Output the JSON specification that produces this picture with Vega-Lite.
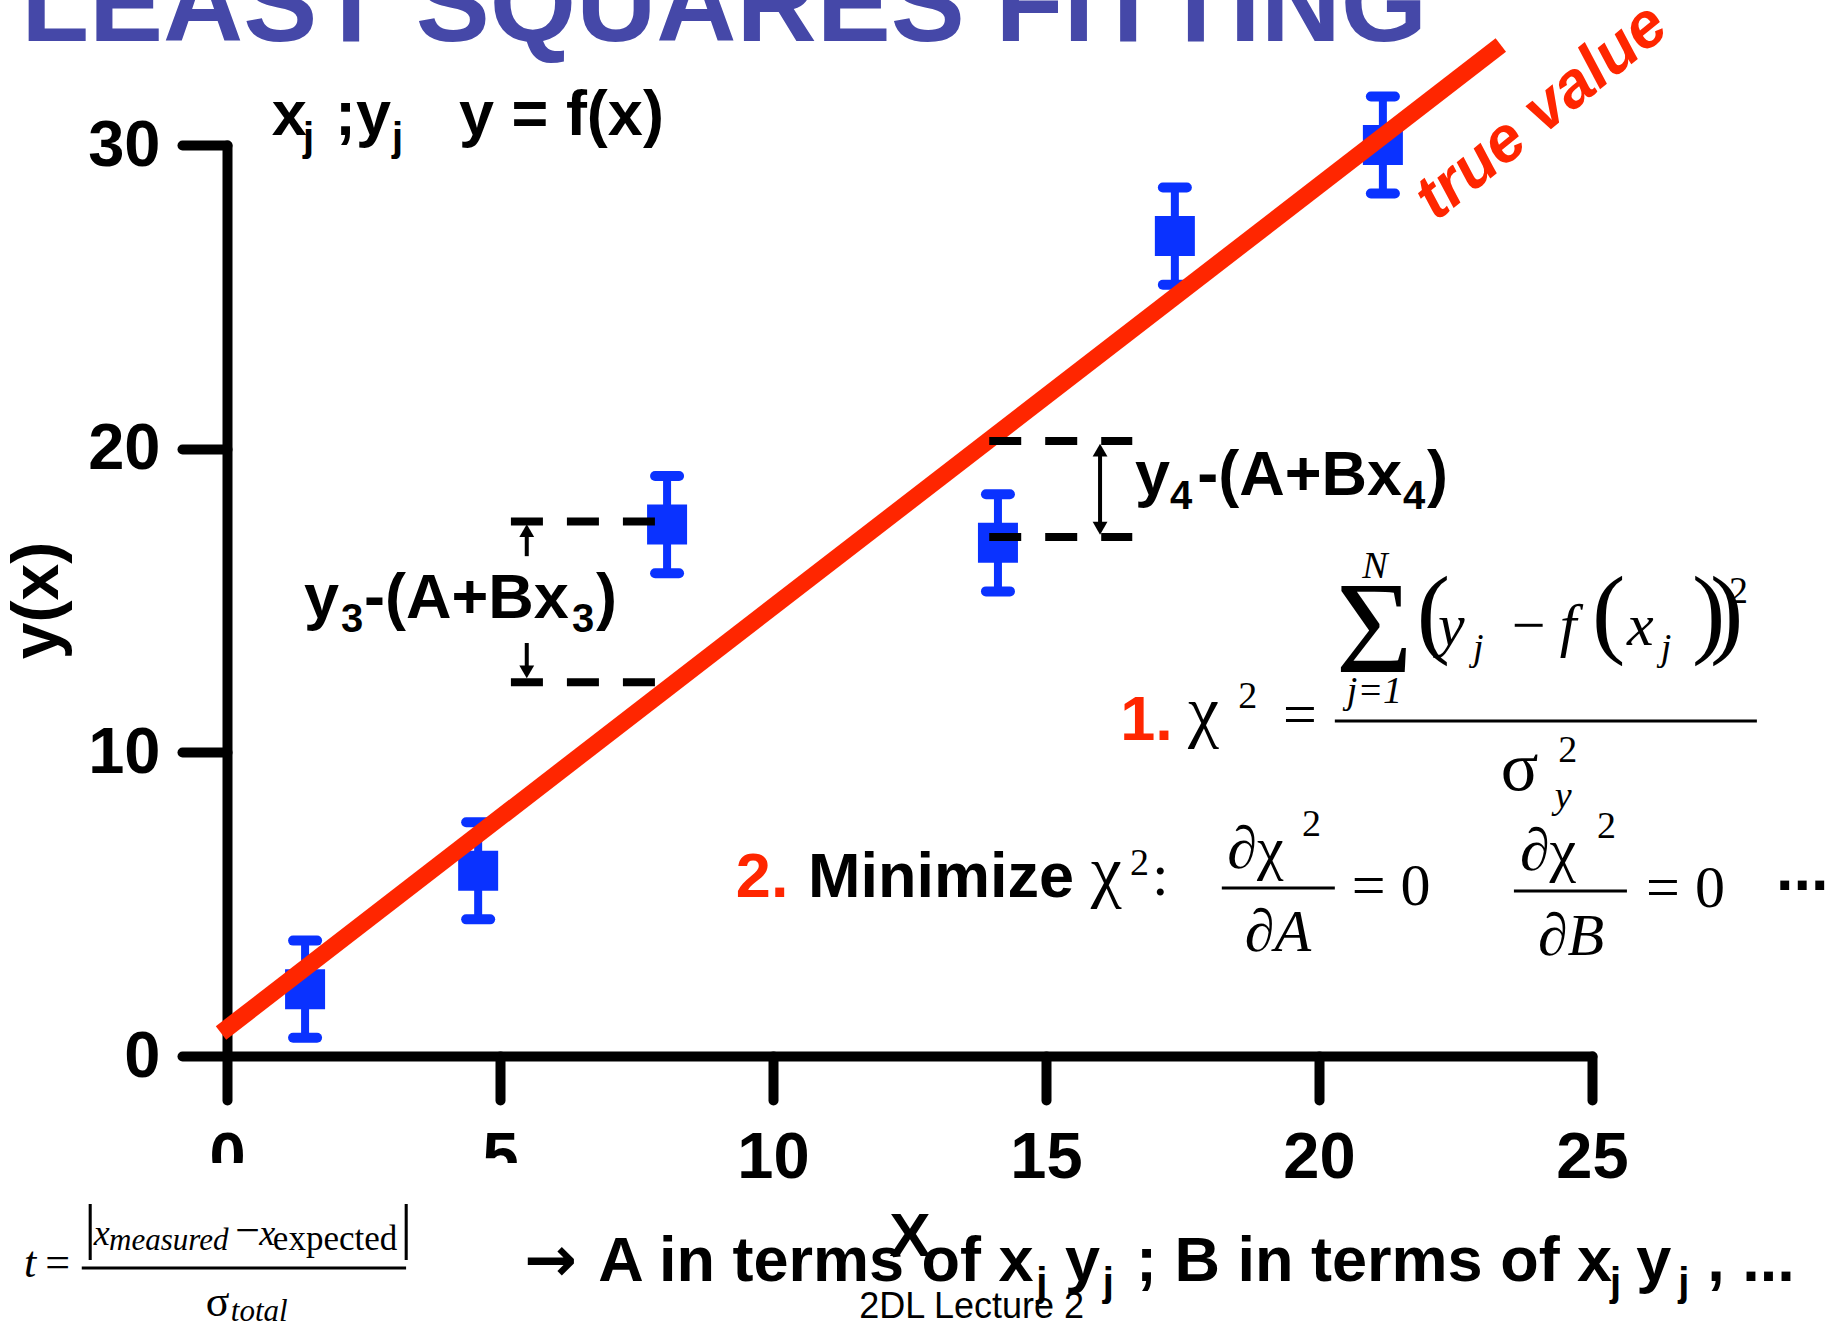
{
  "$schema": "https://vega.github.io/schema/vega-lite/v6.json",
  "width": 1365,
  "height": 911,
  "autosize": {"type": "none"},
  "padding": {"left": 227, "top": 145, "right": 254, "bottom": 271},
  "background": "white",
  "config": {
    "view": {"stroke": null},
    "axis": {
      "grid": false, "zindex": 0,
      "domainColor": "black", "domainWidth": 10, "domainCap": "round",
      "tickColor": "black", "tickWidth": 10, "tickCap": "round",
      "labelFont": "Liberation Sans", "labelFontWeight": "bold", "labelFontSize": 65,
      "labelColor": "black", "titleColor": "black", "labelFlush": false, "labelOverlap": false
    },
    "axisX": {"tickSize": 44, "labelPadding": 26},
    "axisY": {"tickSize": 45, "labelPadding": 22}
  },
  "datasets": {
    "minorX": [{"x": 1}, {"x": 2}, {"x": 3}, {"x": 4}, {"x": 6}, {"x": 7}, {"x": 8}, {"x": 9}, {"x": 11}, {"x": 12}, {"x": 13}, {"x": 14}, {"x": 16}, {"x": 17}, {"x": 18}, {"x": 19}, {"x": 21}, {"x": 22}, {"x": 23}, {"x": 24}],
    "minorY": [{"y": 5}, {"y": 15}, {"y": 25}],
    "points": [
      {"x": 1.43, "y": 2.2, "lo": 0.6, "hi": 3.8},
      {"x": 4.6, "y": 6.1, "lo": 4.5, "hi": 7.7},
      {"x": 8.06, "y": 17.5, "lo": 15.9, "hi": 19.1},
      {"x": 14.12, "y": 16.9, "lo": 15.3, "hi": 18.5},
      {"x": 17.36, "y": 27.0, "lo": 25.4, "hi": 28.6},
      {"x": 21.17, "y": 30.0, "lo": 28.4, "hi": 31.6}
    ],
    "fit": [{"x": -0.11, "y": 0.76}, {"x": 23.33, "y": 33.29}],
    "dashes": [
      {"x": 5.2, "x2": 7.92, "y": 17.6},
      {"x": 5.2, "x2": 7.92, "y": 12.31},
      {"x": 13.96, "x2": 16.58, "y": 20.25},
      {"x": 13.96, "x2": 16.58, "y": 17.09}
    ],
    "shafts": [
      {"x": 5.49, "y": 16.46, "y2": 17.3},
      {"x": 5.49, "y": 13.6, "y2": 12.75},
      {"x": 15.99, "y": 19.85, "y2": 17.5}
    ],
    "headsUp": [{"x": 5.49, "y": 17.3}, {"x": 15.99, "y": 19.95}],
    "headsDown": [{"x": 5.49, "y": 12.65}, {"x": 15.99, "y": 17.38}],
    "fracLines": [
      {"x": 20.29, "x2": 28.02, "y": 11.03},
      {"x": 18.22, "x2": 20.29, "y": 5.53},
      {"x": 23.57, "x2": 25.64, "y": 5.43},
      {"x": -2.66, "x2": 3.28, "y": -6.98}
    ],
    "cover": [{"x": -4.3, "x2": 5.46, "y": -3.52, "y2": -9.2}],
    "heading": [{"x": -3.77, "y": 33.42, "t": "LEAST  SQUARES  FITTING"}],
    "sansBig": [
      {"x": 0.82, "y": 30.33, "t": "x"},
      {"x": 1.98, "y": 30.33, "t": ";y"},
      {"x": 4.25, "y": 30.33, "t": "y = f(x)"},
      {"x": 1.41, "y": 14.42, "t": "y"},
      {"x": 2.51, "y": 14.42, "t": "-(A+Bx"},
      {"x": 6.76, "y": 14.42, "t": ")"},
      {"x": 16.63, "y": 18.47, "t": "y"},
      {"x": 17.77, "y": 18.47, "t": "-(A+Bx"},
      {"x": 21.98, "y": 18.47, "t": ")"},
      {"x": 10.64, "y": 5.24, "t": "Minimize"},
      {"x": 28.37, "y": 5.47, "t": "..."},
      {"x": 6.8, "y": -7.41, "t": "A in terms of x"},
      {"x": 15.35, "y": -7.41, "t": "y"},
      {"x": 16.65, "y": -7.41, "t": "; B in terms of x"},
      {"x": 25.81, "y": -7.41, "t": "y"},
      {"x": 27.11, "y": -7.41, "t": ", ..."}
    ],
    "arrowGlyph": [{"x": 5.44, "y": -7.41, "t": "→"}],
    "sansSub": [
      {"x": 1.39, "y": 29.8, "t": "j"},
      {"x": 3.02, "y": 29.8, "t": "j"},
      {"x": 2.09, "y": 13.96, "t": "3"},
      {"x": 6.32, "y": 13.96, "t": "3"},
      {"x": 17.27, "y": 18.01, "t": "4"},
      {"x": 21.54, "y": 18.01, "t": "4"},
      {"x": 14.82, "y": -7.9, "t": "j"},
      {"x": 16.04, "y": -7.9, "t": "j"},
      {"x": 25.33, "y": -7.9, "t": "j"},
      {"x": 26.58, "y": -7.9, "t": "j"}
    ],
    "steps": [
      {"x": 16.36, "y": 10.4, "t": "1."},
      {"x": 9.32, "y": 5.24, "t": "2."}
    ],
    "lineLabel": [{"x": 24.08, "y": 31.08, "t": "true value"}],
    "serif70": [
      {"x": 17.6, "y": 10.6, "t": "χ"},
      {"x": 23.33, "y": 8.76, "t": "σ"},
      {"x": 15.82, "y": 5.33, "t": "χ"}
    ],
    "serif60": [
      {"x": 19.34, "y": 10.6, "t": "="},
      {"x": 18.32, "y": 6.19, "t": "∂χ"},
      {"x": 23.68, "y": 6.12, "t": "∂χ"},
      {"x": 16.94, "y": 5.3, "t": ":"},
      {"x": 20.6, "y": 4.97, "t": "= 0"},
      {"x": 25.99, "y": 4.91, "t": "= 0"},
      {"x": 23.53, "y": 13.53, "t": "−"}
    ],
    "serif60i": [
      {"x": 18.64, "y": 3.46, "t": "∂A"},
      {"x": 24.01, "y": 3.33, "t": "∂B"},
      {"x": 22.18, "y": 13.53, "t": "y"},
      {"x": 24.41, "y": 13.53, "t": "f"},
      {"x": 25.64, "y": 13.53, "t": "x"}
    ],
    "parens": [
      {"x": 21.79, "y": 13.53, "t": "("},
      {"x": 25.0, "y": 13.53, "t": "("},
      {"x": 26.83, "y": 13.53, "t": ")"},
      {"x": 27.16, "y": 13.53, "t": ")"}
    ],
    "sigmaBig": [{"x": 21.01, "y": 12.64, "t": "Σ"}],
    "serifSmallI": [
      {"x": 20.79, "y": 15.74, "t": "N"},
      {"x": 20.51, "y": 11.62, "t": "j=1"},
      {"x": 22.82, "y": 13.04, "t": "j"},
      {"x": 26.26, "y": 13.04, "t": "j"},
      {"x": 24.32, "y": 8.17, "t": "y"}
    ],
    "serifSup": [
      {"x": 18.52, "y": 11.46, "t": "2"},
      {"x": 27.51, "y": 14.92, "t": "2"},
      {"x": 24.38, "y": 9.68, "t": "2"},
      {"x": 16.54, "y": 5.96, "t": "2"},
      {"x": 19.69, "y": 7.24, "t": "2"},
      {"x": 25.09, "y": 7.18, "t": "2"}
    ],
    "tItalic": [
      {"x": -3.72, "y": -7.28, "t": "t"}
    ],
    "tVars": [
      {"x": -2.44, "y": -6.22, "t": "x"},
      {"x": 0.59, "y": -6.22, "t": "x"}
    ],
    "tRoman": [
      {"x": -3.33, "y": -7.28, "t": "="},
      {"x": 0.15, "y": -6.22, "t": "−"},
      {"x": -0.39, "y": -8.56, "t": "σ"}
    ],
    "tSubI": [
      {"x": -2.16, "y": -6.39, "t": "measured"},
      {"x": 0.07, "y": -8.73, "t": "total"}
    ],
    "tSubR": [{"x": 0.84, "y": -6.39, "t": "expected"}],
    "tBars": [
      {"x": -2.62, "y": -6.29, "t": "|"},
      {"x": 3.17, "y": -6.29, "t": "|"}
    ],
    "footer": [{"x": 13.64, "y": -8.63, "t": "2DL Lecture 2"}]
  },
  "encoding": {
    "x": {
      "field": "x", "type": "quantitative",
      "scale": {"domain": [0, 25], "nice": false, "zero": false},
      "axis": {
        "values": [0, 5, 10, 15, 20, 25], "title": "X",
        "titleFont": "Liberation Sans", "titleFontWeight": "bold", "titleFontSize": 62,
        "titleBaseline": "alphabetic", "titleY": 199
      }
    },
    "y": {
      "field": "y", "type": "quantitative",
      "scale": {"domain": [0, 30], "nice": false, "zero": false},
      "axis": {
        "values": [0, 10, 20, 30], "title": "y(x)",
        "titleFont": "Liberation Sans", "titleFontWeight": "bold", "titleFontSize": 66,
        "titleAngle": 270, "titleAlign": "center", "titleBaseline": "alphabetic",
        "titleX": -170, "titleY": 455
      }
    }
  },
  "layer": [
    {
      "data": {"name": "cover"},
      "mark": {"type": "rect", "color": "white", "opacity": 1},
      "encoding": {"x2": {"field": "x2"}, "y2": {"field": "y2"}}
    },
    {
      "data": {"name": "minorX"},
      "mark": {"type": "rule", "color": "black", "strokeWidth": 10, "strokeCap": "round", "y2Offset": 21},
      "encoding": {"y": {"datum": 0}, "y2": {"datum": 0}}
    },
    {
      "data": {"name": "minorY"},
      "mark": {"type": "rule", "color": "black", "strokeWidth": 10, "strokeCap": "round", "x2Offset": -22},
      "encoding": {"x": {"datum": 0}, "x2": {"datum": 0}}
    },
    {
      "data": {"name": "points"},
      "mark": {"type": "rule", "color": "#0A32FF", "strokeWidth": 8},
      "encoding": {"y": {"field": "lo", "type": "quantitative"}, "y2": {"field": "hi"}}
    },
    {
      "data": {"name": "points"},
      "mark": {"type": "rule", "color": "#0A32FF", "strokeWidth": 10, "strokeCap": "round", "xOffset": -12, "x2Offset": 12},
      "encoding": {"y": {"field": "lo", "type": "quantitative"}, "x2": {"field": "x"}}
    },
    {
      "data": {"name": "points"},
      "mark": {"type": "rule", "color": "#0A32FF", "strokeWidth": 10, "strokeCap": "round", "xOffset": -12, "x2Offset": 12},
      "encoding": {"y": {"field": "hi", "type": "quantitative"}, "x2": {"field": "x"}}
    },
    {
      "data": {"name": "points"},
      "mark": {"type": "point", "shape": "square", "size": 1600, "filled": true, "color": "#0A32FF", "opacity": 1, "strokeWidth": 0}
    },
    {
      "data": {"name": "fit"},
      "mark": {"type": "line", "color": "#FF2600", "strokeWidth": 17, "strokeCap": "butt"}
    },
    {
      "data": {"name": "dashes"},
      "mark": {"type": "rule", "color": "black", "strokeWidth": 8, "strokeDash": [32, 24]},
      "encoding": {"x2": {"field": "x2"}}
    },
    {
      "data": {"name": "shafts"},
      "mark": {"type": "rule", "color": "black", "strokeWidth": 4},
      "encoding": {"y2": {"field": "y2"}}
    },
    {
      "data": {"name": "headsUp"},
      "mark": {"type": "point", "shape": "triangle-up", "size": 220, "filled": true, "color": "black", "opacity": 1, "strokeWidth": 0}
    },
    {
      "data": {"name": "headsDown"},
      "mark": {"type": "point", "shape": "triangle-down", "size": 220, "filled": true, "color": "black", "opacity": 1, "strokeWidth": 0}
    },
    {
      "data": {"name": "fracLines"},
      "mark": {"type": "rule", "color": "black", "strokeWidth": 3},
      "encoding": {"x2": {"field": "x2"}}
    },
    {
      "data": {"name": "heading"},
      "mark": {"type": "text", "font": "Liberation Sans", "fontWeight": "bold", "fontSize": 111, "color": "#4548A8", "align": "left", "baseline": "alphabetic"},
      "encoding": {"text": {"field": "t"}}
    },
    {
      "data": {"name": "sansBig"},
      "mark": {"type": "text", "font": "Liberation Sans", "fontWeight": "bold", "fontSize": 63, "color": "black", "align": "left", "baseline": "alphabetic"},
      "encoding": {"text": {"field": "t"}}
    },
    {
      "data": {"name": "arrowGlyph"},
      "mark": {"type": "text", "font": "DejaVu Sans", "fontWeight": "bold", "fontSize": 63, "color": "black", "align": "left", "baseline": "alphabetic"},
      "encoding": {"text": {"field": "t"}}
    },
    {
      "data": {"name": "sansSub"},
      "mark": {"type": "text", "font": "Liberation Sans", "fontWeight": "bold", "fontSize": 40, "color": "black", "align": "left", "baseline": "alphabetic"},
      "encoding": {"text": {"field": "t"}}
    },
    {
      "data": {"name": "steps"},
      "mark": {"type": "text", "font": "Liberation Sans", "fontWeight": "bold", "fontSize": 63, "color": "#FF2600", "align": "left", "baseline": "alphabetic"},
      "encoding": {"text": {"field": "t"}}
    },
    {
      "data": {"name": "lineLabel"},
      "mark": {"type": "text", "font": "Liberation Sans", "fontWeight": "bold", "fontStyle": "italic", "fontSize": 64, "color": "#FF2600", "align": "center", "baseline": "middle", "angle": 321},
      "encoding": {"text": {"field": "t"}}
    },
    {
      "data": {"name": "serif70"},
      "mark": {"type": "text", "font": "Liberation Serif", "fontSize": 70, "color": "black", "align": "left", "baseline": "alphabetic"},
      "encoding": {"text": {"field": "t"}}
    },
    {
      "data": {"name": "serif60"},
      "mark": {"type": "text", "font": "Liberation Serif", "fontSize": 60, "color": "black", "align": "left", "baseline": "alphabetic"},
      "encoding": {"text": {"field": "t"}}
    },
    {
      "data": {"name": "serif60i"},
      "mark": {"type": "text", "font": "Liberation Serif", "fontStyle": "italic", "fontSize": 60, "color": "black", "align": "left", "baseline": "alphabetic"},
      "encoding": {"text": {"field": "t"}}
    },
    {
      "data": {"name": "parens"},
      "mark": {"type": "text", "font": "Liberation Serif", "fontSize": 100, "color": "black", "align": "left", "baseline": "alphabetic"},
      "encoding": {"text": {"field": "t"}}
    },
    {
      "data": {"name": "sigmaBig"},
      "mark": {"type": "text", "font": "Liberation Serif", "fontSize": 132, "color": "black", "align": "center", "baseline": "alphabetic"},
      "encoding": {"text": {"field": "t"}}
    },
    {
      "data": {"name": "serifSmallI"},
      "mark": {"type": "text", "font": "Liberation Serif", "fontStyle": "italic", "fontSize": 38, "color": "black", "align": "left", "baseline": "alphabetic"},
      "encoding": {"text": {"field": "t"}}
    },
    {
      "data": {"name": "serifSup"},
      "mark": {"type": "text", "font": "Liberation Serif", "fontSize": 38, "color": "black", "align": "left", "baseline": "alphabetic"},
      "encoding": {"text": {"field": "t"}}
    },
    {
      "data": {"name": "tItalic"},
      "mark": {"type": "text", "font": "Liberation Serif", "fontStyle": "italic", "fontSize": 44, "color": "black", "align": "left", "baseline": "alphabetic"},
      "encoding": {"text": {"field": "t"}}
    },
    {
      "data": {"name": "tVars"},
      "mark": {"type": "text", "font": "Liberation Serif", "fontStyle": "italic", "fontSize": 36, "color": "black", "align": "left", "baseline": "alphabetic"},
      "encoding": {"text": {"field": "t"}}
    },
    {
      "data": {"name": "tRoman"},
      "mark": {"type": "text", "font": "Liberation Serif", "fontSize": 44, "color": "black", "align": "left", "baseline": "alphabetic"},
      "encoding": {"text": {"field": "t"}}
    },
    {
      "data": {"name": "tSubI"},
      "mark": {"type": "text", "font": "Liberation Serif", "fontStyle": "italic", "fontSize": 31, "color": "black", "align": "left", "baseline": "alphabetic"},
      "encoding": {"text": {"field": "t"}}
    },
    {
      "data": {"name": "tSubR"},
      "mark": {"type": "text", "font": "Liberation Serif", "fontSize": 35, "color": "black", "align": "left", "baseline": "alphabetic"},
      "encoding": {"text": {"field": "t"}}
    },
    {
      "data": {"name": "tBars"},
      "mark": {"type": "text", "font": "Liberation Serif", "fontSize": 62, "color": "black", "align": "left", "baseline": "alphabetic"},
      "encoding": {"text": {"field": "t"}}
    },
    {
      "data": {"name": "footer"},
      "mark": {"type": "text", "font": "Liberation Sans", "fontSize": 36, "color": "black", "align": "center", "baseline": "alphabetic"},
      "encoding": {"text": {"field": "t"}}
    }
  ]
}
